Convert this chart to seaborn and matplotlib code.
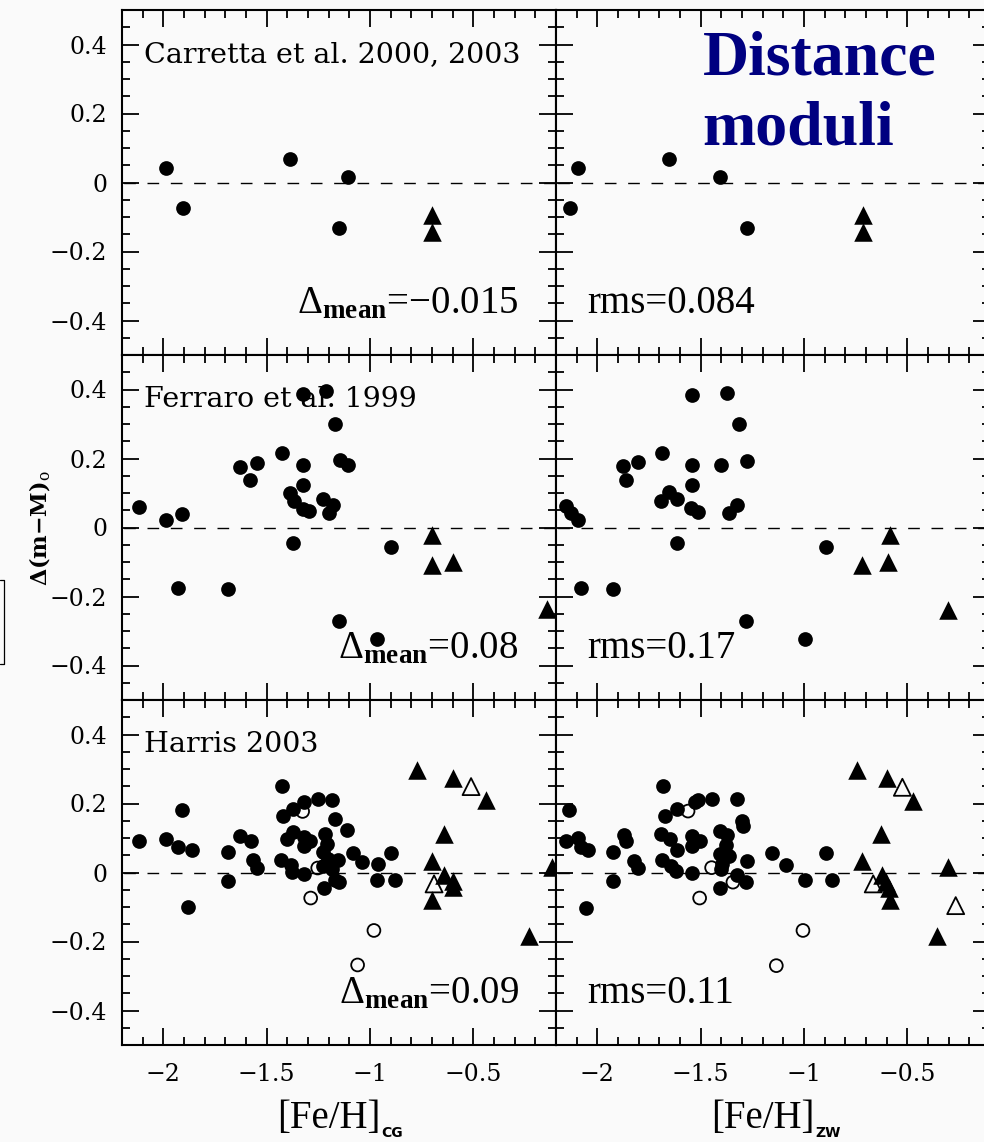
import matplotlib
matplotlib.use("Agg")
import matplotlib.pyplot as plt
from matplotlib.ticker import MultipleLocator, FuncFormatter
from matplotlib.lines import Line2D
import seaborn as sns

# ---------------- data: Δ(m−M)o versus [Fe/H] (CG and ZW scales) ----------------
# Carretta et al. 2000, 2003
carretta_cg_circ_x = [-1.987, -1.906, -1.387, -1.108, -1.150]
carretta_zw_circ_x = [-2.092, -2.132, -1.652, -1.405, -1.274]
carretta_circ_y = [0.043, -0.074, 0.069, 0.015, -0.131]
carretta_cg_tri_x = [-0.702, -0.702]
carretta_zw_tri_x = [-0.716, -0.716]
carretta_tri_y = [-0.093, -0.144]

# Ferraro et al. 1999
ferraro_cg_circ_x = [-2.118, -1.989, -1.908, -1.927, -1.689, -1.629, -1.579, -1.548, -1.427,
                     -1.323, -1.323, -1.323, -1.387, -1.366, -1.323, -1.295, -1.371, -1.215,
                     -1.169, -1.145, -1.108, -1.229, -1.177, -1.198, -0.898, -1.150, -0.968]
ferraro_cg_circ_y = [0.058, 0.022, 0.040, -0.176, -0.178, 0.175, 0.139, 0.187, 0.216,
                     0.387, 0.180, 0.122, 0.100, 0.076, 0.054, 0.047, -0.045, 0.397,
                     0.299, 0.196, 0.182, 0.083, 0.064, 0.043, -0.057, -0.272, -0.323]
ferraro_cg_tri_x = [-0.702, -0.702, -0.600, -0.143]
ferraro_cg_tri_y = [-0.021, -0.108, -0.100, -0.235]

ferraro_zw_circ_x = [-2.153, -2.129, -2.092, -2.081, -1.923, -1.874, -1.863, -1.803, -1.685,
                     -1.544, -1.544, -1.544, -1.694, -1.653, -1.613, -1.548, -1.511, -1.613,
                     -1.374, -1.315, -1.274, -1.403, -1.363, -1.323, -0.895, -1.282, -0.995]
ferraro_zw_circ_y = [0.061, 0.042, 0.023, -0.176, -0.178, 0.177, 0.139, 0.189, 0.216,
                     0.385, 0.180, 0.122, 0.078, 0.102, 0.083, 0.056, 0.046, -0.045,
                     0.390, 0.299, 0.194, 0.180, 0.043, 0.064, -0.057, -0.272, -0.323]
ferraro_zw_tri_x = [-0.584, -0.718, -0.594, -0.303]
ferraro_zw_tri_y = [-0.021, -0.108, -0.100, -0.238]

# Harris 2003
harris_cg_circ_x = [-2.118, -1.989, -1.927, -1.908, -1.860, -1.879, -1.689, -1.689, -1.629,
                    -1.576, -1.565, -1.548, -1.427, -1.419, -1.371, -1.318, -1.250, -1.182,
                    -1.169, -1.113, -1.403, -1.371, -1.318, -1.290, -1.318, -1.431, -1.382,
                    -1.379, -1.318, -1.218, -1.210, -1.226, -1.202, -1.226, -1.153, -1.182,
                    -1.169, -1.221, -1.150, -1.081, -1.040, -0.960, -0.898, -0.968, -0.879]
harris_cg_circ_y = [0.090, 0.098, 0.073, 0.182, 0.064, -0.100, 0.059, -0.025, 0.107,
                    0.090, 0.035, 0.013, 0.250, 0.165, 0.185, 0.204, 0.214, 0.211,
                    0.156, 0.124, 0.096, 0.117, 0.102, 0.091, 0.078, 0.035, 0.022,
                    0.001, -0.004, 0.112, 0.083, 0.059, 0.040, 0.020, 0.035, 0.011,
                    -0.023, -0.045, -0.028, 0.056, 0.030, 0.025, 0.056, -0.021, -0.023]
harris_cg_open_x = [-1.326, -1.253, -1.287, -0.981, -1.060]
harris_cg_open_y = [0.177, 0.013, -0.074, -0.168, -0.268]
harris_cg_tri_x = [-0.771, -0.600, -0.439, -0.642, -0.702, -0.640, -0.600, -0.597, -0.702,
                   -0.231, -0.121]
harris_cg_tri_y = [0.296, 0.273, 0.209, 0.112, 0.032, -0.006, -0.026, -0.043, -0.081,
                   -0.183, 0.017]
harris_cg_otri_x = [-0.511, -0.690]
harris_cg_otri_y = [0.249, -0.033]

harris_zw_circ_x = [-2.137, -2.153, -2.092, -2.081, -2.044, -2.053, -1.923, -1.923, -1.871,
                    -1.863, -1.823, -1.803, -1.682, -1.674, -1.613, -1.527, -1.511, -1.444,
                    -1.323, -1.298, -1.295, -1.694, -1.650, -1.613, -1.544, -1.544, -1.505,
                    -1.685, -1.645, -1.621, -1.544, -1.406, -1.371, -1.379, -1.406, -1.363,
                    -1.395, -1.403, -1.323, -1.282, -1.406, -1.274, -1.153, -1.089, -0.995,
                    -0.895, -0.866]
harris_zw_circ_y = [0.182, 0.090, 0.100, 0.075, 0.064, -0.102, 0.059, -0.026, 0.109,
                    0.090, 0.033, 0.014, 0.250, 0.163, 0.185, 0.204, 0.209, 0.212,
                    0.212, 0.148, 0.136, 0.112, 0.098, 0.066, 0.105, 0.078, 0.090,
                    0.037, 0.020, 0.003, -0.001, 0.120, 0.109, 0.080, 0.054, 0.047,
                    0.025, 0.011, -0.006, -0.028, -0.044, 0.033, 0.056, 0.023, -0.021,
                    0.056, -0.023]
harris_zw_open_x = [-1.561, -1.447, -1.505, -1.344, -1.005, -1.134]
harris_zw_open_y = [0.178, 0.014, -0.074, -0.028, -0.168, -0.270]
harris_zw_tri_x = [-0.745, -0.600, -0.473, -0.626, -0.718, -0.621, -0.605, -0.589, -0.584,
                   -0.355, -0.303]
harris_zw_tri_y = [0.296, 0.273, 0.206, 0.112, 0.032, -0.006, -0.028, -0.045, -0.081,
                   -0.183, 0.017]
harris_zw_otri_x = [-0.524, -0.665, -0.266]
harris_zw_otri_y = [0.247, -0.033, -0.096]

source_labels = ["Carretta et al. 2000, 2003", "Ferraro et al. 1999", "Harris 2003"]
mean_offsets = ["\u22120.015", "0.08", "0.09"]
rms_values = ["0.084", "0.17", "0.11"]
scale_names = ["CG", "ZW"]

# panel contents: [row][col] -> dict of marker groups
panels = [
    [dict(circ=(carretta_cg_circ_x, carretta_circ_y), tri=(carretta_cg_tri_x, carretta_tri_y)),
     dict(circ=(carretta_zw_circ_x, carretta_circ_y), tri=(carretta_zw_tri_x, carretta_tri_y))],
    [dict(circ=(ferraro_cg_circ_x, ferraro_cg_circ_y), tri=(ferraro_cg_tri_x, ferraro_cg_tri_y)),
     dict(circ=(ferraro_zw_circ_x, ferraro_zw_circ_y), tri=(ferraro_zw_tri_x, ferraro_zw_tri_y))],
    [dict(circ=(harris_cg_circ_x, harris_cg_circ_y), open=(harris_cg_open_x, harris_cg_open_y),
          tri=(harris_cg_tri_x, harris_cg_tri_y), otri=(harris_cg_otri_x, harris_cg_otri_y)),
     dict(circ=(harris_zw_circ_x, harris_zw_circ_y), open=(harris_zw_open_x, harris_zw_open_y),
          tri=(harris_zw_tri_x, harris_zw_tri_y), otri=(harris_zw_otri_x, harris_zw_otri_y))],
]

# ---------------- style ----------------
BG = "#fafafa"
sns.set_style("ticks")
plt.rcParams.update({
    "font.family": ["DejaVu Serif"],
    "text.color": "black",
    "axes.labelcolor": "black",
    "xtick.color": "black",
    "ytick.color": "black",
    "mathtext.fontset": "custom",
    "mathtext.rm": "Liberation Serif",
    "mathtext.bf": "Liberation Serif:bold",
    "mathtext.it": "Liberation Serif:italic",
    "axes.linewidth": 1.5,
    "axes.edgecolor": "black",
})

W, H = 984, 1142
fig = plt.figure(figsize=(W / 100, H / 100), dpi=100, facecolor=BG)

PW, PH = 434, 345
col_x0 = [122, 556]
row_y0 = [10, 355, 700]


def fmt(v, _pos):
    v = round(v, 6)
    if abs(v) < 1e-9:
        return "0"
    return ("%g" % v).replace("-", "\u2212")


for r in range(3):
    for c in range(2):
        x0, y0 = col_x0[c], row_y0[r]
        ax = fig.add_axes([x0 / W, 1 - (y0 + PH) / H, PW / W, PH / H])
        ax.set_facecolor(BG)
        ax.set_xlim(-2.2, -0.1)
        ax.set_ylim(-0.5, 0.5)
        ax.axhline(0, color="black", lw=1.0, ls=(15.6, (8.4, 8.4)), zorder=1)

        grp = panels[r][c]
        cx, cy = grp["circ"]
        sns.scatterplot(x=cx, y=cy, ax=ax, marker="o", s=112, color="black",
                        linewidth=0, zorder=3, legend=False)
        if "open" in grp:
            ox, oy = grp["open"]
            sns.scatterplot(x=ox, y=oy, ax=ax, marker="o", s=85, facecolor="none",
                            edgecolor="black", linewidth=1.3, zorder=3, legend=False)
        tx, ty = grp["tri"]
        sns.scatterplot(x=tx, y=ty, ax=ax, marker="^", s=178, color="black",
                        linewidth=0, zorder=3, legend=False, clip_on=False)
        if "otri" in grp:
            px, py = grp["otri"]
            sns.scatterplot(x=px, y=py, ax=ax, marker="^", s=150, facecolor="none",
                            edgecolor="black", linewidth=1.3, zorder=3, legend=False)

        ax.set_xlabel("")
        ax.set_ylabel("")
        ax.xaxis.set_major_locator(MultipleLocator(0.5))
        ax.xaxis.set_minor_locator(MultipleLocator(0.1))
        ax.yaxis.set_major_locator(MultipleLocator(0.2))
        ax.yaxis.set_minor_locator(MultipleLocator(0.05))
        ax.xaxis.set_major_formatter(FuncFormatter(fmt))
        ax.yaxis.set_major_formatter(FuncFormatter(fmt))
        ax.tick_params(which="both", direction="in", top=True, right=True,
                       width=1.3, color="black", labelcolor="black")
        ax.tick_params(which="major", length=12.5)
        ax.tick_params(which="minor", length=6)
        ax.tick_params(axis="y", labelsize=17, pad=10.8, labelleft=(c == 0))
        ax.tick_params(axis="x", labelsize=17, pad=13, labelbottom=(r == 2))
        for sp in ax.spines.values():
            sp.set_visible(True)
            sp.set_color("black")
            sp.set_linewidth(1.5)

        if c == 0:
            ax.text(0.05, 0.85, source_labels[r], transform=ax.transAxes, fontsize=20.5,
                    family="DejaVu Serif", color="black", ha="left", va="baseline", zorder=2)
            ax.text(0.914, 0.122, "\u0394$_{\\mathbf{mean}}$=" + mean_offsets[r],
                    transform=ax.transAxes, fontsize=28, family="Liberation Serif",
                    color="black", ha="right", va="baseline", zorder=2)
        else:
            ax.text(0.073, 0.122, "rms=" + rms_values[r], transform=ax.transAxes,
                    fontsize=28, family="Liberation Serif", color="black", ha="left",
                    va="baseline", zorder=2)
            if r == 0:
                for txt, yb in [("Distance", 0.812), ("moduli", 0.609)]:
                    ax.text(0.338, yb, txt, transform=ax.transAxes, fontsize=46,
                            family="Liberation Serif", weight="bold", color="#000080",
                            ha="left", va="baseline", zorder=2)

        if r == 2:
            t = ax.text(0.358, -0.241, "[Fe/H]", transform=ax.transAxes, fontsize=28,
                        family="Liberation Serif", color="black", ha="left", va="baseline")
            ax.annotate(scale_names[c], xy=(1, 0), xycoords=t, xytext=(0.5, -2),
                        textcoords="offset points", fontsize=10, family="DejaVu Sans",
                        weight="bold", color="black", ha="left", va="bottom")

# shared y-axis title
fig.text(40 / W, 1 - 528 / H, "\u0394(m\u2212M)$_{\\rm o}$", rotation=90, ha="center",
         va="center", fontsize=16, weight="bold", family="DejaVu Serif", color="black",
         math_fontfamily="dejavuserif")

# small frame fragment at the left edge
fx = 3.5 / W
fy0, fy1 = 1 - 580 / H, 1 - 664 / H
fig.add_artist(Line2D([0, fx, fx, 0], [fy0, fy0, fy1, fy1], color="black", lw=0.9))

fig.savefig("out.png", dpi=100, facecolor=BG)
